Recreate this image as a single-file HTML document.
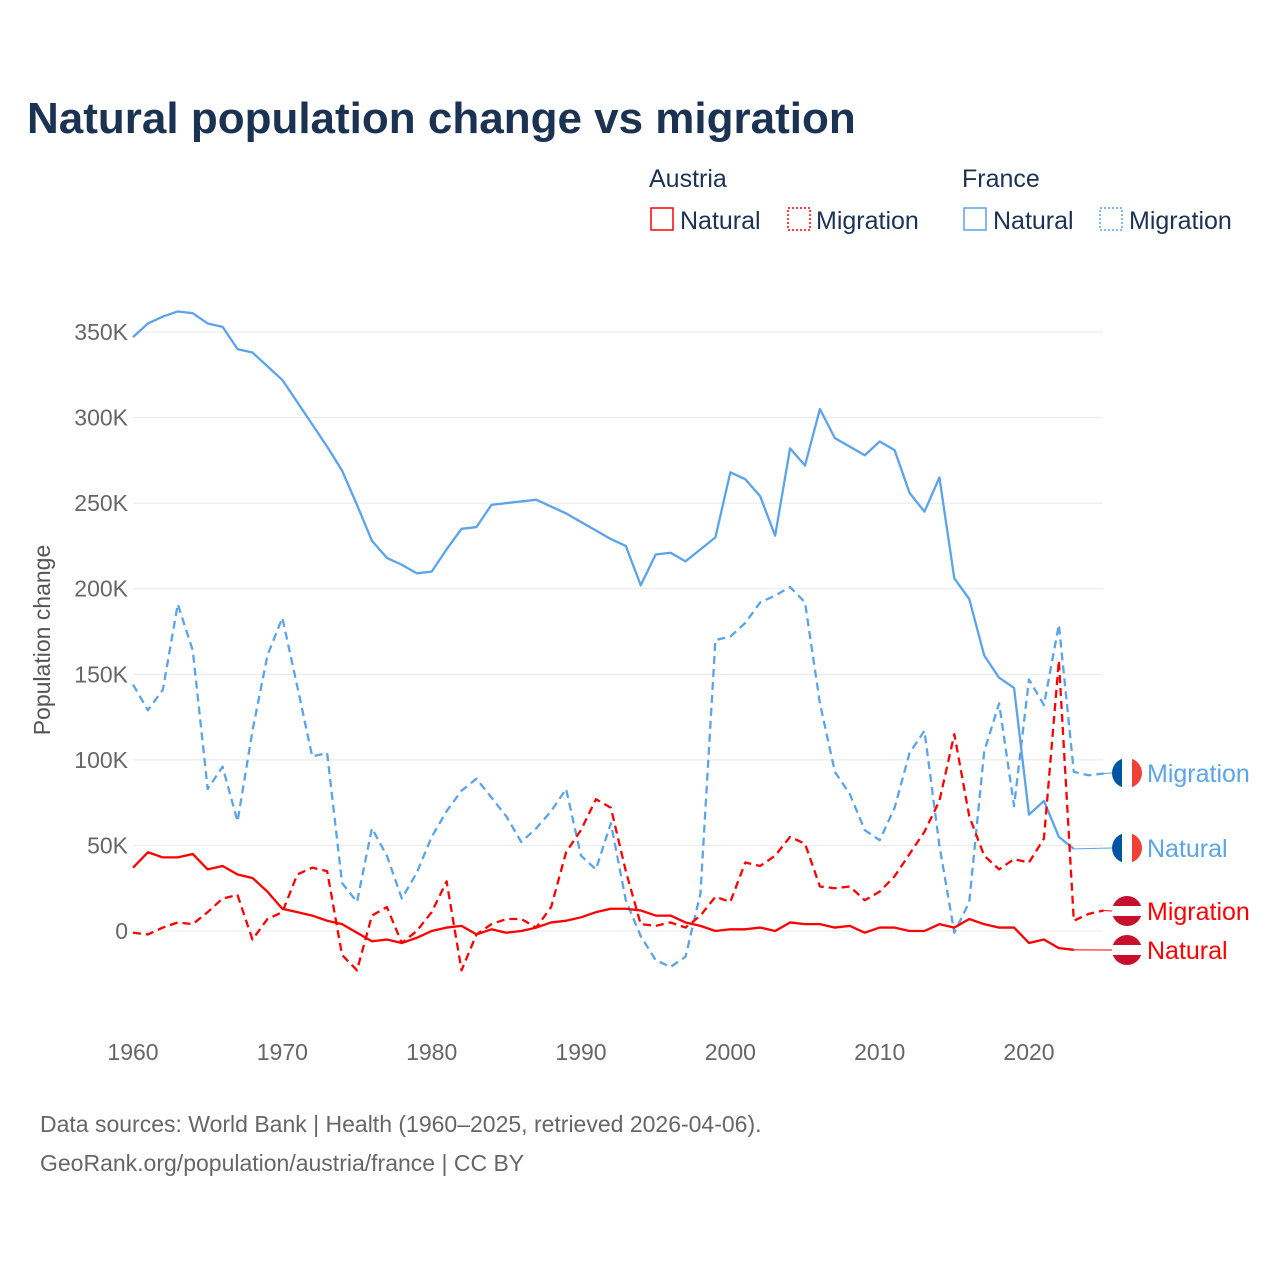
<!DOCTYPE html>
<html><head><meta charset="utf-8">
<style>
body{margin:0;background:#fff;font-family:"Liberation Sans",sans-serif;}
svg text{font-family:"Liberation Sans",sans-serif;}
</style></head>
<body>
<svg id="chart" width="1280" height="1280" xmlns="http://www.w3.org/2000/svg">
<text x="27" y="133" font-size="44" font-weight="bold" fill="#1b3252">Natural population change vs migration</text>
<g font-size="25" fill="#1b3252">
<text x="649" y="187">Austria</text>
<text x="962" y="187">France</text>
<g><rect x="651" y="208" width="22" height="22" fill="none" stroke="#f00" stroke-width="1.5"/><text x="680" y="229">Natural</text></g>
<g><rect x="788" y="208" width="22" height="22" fill="none" stroke="#f00" stroke-width="1.5" stroke-dasharray="2,2"/><text x="816" y="229">Migration</text></g>
<g><rect x="964" y="208" width="22" height="22" fill="none" stroke="#5ba3ea" stroke-width="1.5"/><text x="993" y="229">Natural</text></g>
<g><rect x="1100" y="208" width="22" height="22" fill="none" stroke="#5ba3ea" stroke-width="1.5" stroke-dasharray="2,2"/><text x="1129" y="229">Migration</text></g>
</g>
<text transform="translate(50,640) rotate(-90)" text-anchor="middle" font-size="23" fill="#555">Population change</text>
<g id="grid"></g><g id="yt"></g><g id="xt"></g><g id="series"></g><g id="labels"></g>
<text x="40" y="1132" font-size="23" fill="#666">Data sources: World Bank | Health (1960–2025, retrieved 2026-04-06).</text>
<text x="40" y="1171" font-size="23" fill="#666">GeoRank.org/population/austria/france | CC BY</text>
</svg>
<script>
const years=[];for(let y=1960;y<=2025;y++)years.push(y);
const yTicks=[0,50,100,150,200,250,300,350];
const yTickLabels=["0","50K","100K","150K","200K","250K","300K","350K"];
const xTicks=[1960,1970,1980,1990,2000,2010,2020];
const franceNatural=[347,355,359,362,361,355,353,340,338,330,322,309,296,283,269,249,228,218,214,209,210,223,235,236,249,250,251,252,248,244,239,234,229,225,202,220,221,216,223,230,268,264,254,231,282,272,305,288,283,278,286,281,256,245,265,206,194,161,148,142,68,76,55,48];
const franceMigration=[144,129,141,191,164,83,96,64,117,161,183,143,102,104,28,17,60,44,19,34,55,70,82,89,78,67,52,60,70,83,44,36,63,18,-3,-17,-21,-15,22,170,172,180,192,196,201,192,133,93,80,59,53,72,104,117,50,-1,17,105,133,73,147,132,179,93,91,92];
const austriaNatural=[37,46,43,43,45,36,38,33,31,23,13,11,9,6,4,-1,-6,-5,-7,-4,0,2,3,-2,1,-1,0,2,5,6,8,11,13,13,12,9,9,5,3,0,1,1,2,0,5,4,4,2,3,-1,2,2,0,0,4,2,7,4,2,2,-7,-5,-10,-11];
const austriaMigration=[-1,-2,2,5,4,11,19,21,-5,7,11,33,37,35,-14,-23,9,14,-7,0,11,29,-23,-2,4,7,7,2,14,46,59,77,72,35,4,3,5,2,9,20,17,40,38,44,55,51,26,25,26,18,23,32,45,58,76,115,67,44,36,42,40,54,158,6,10,12];
const NS="http://www.w3.org/2000/svg";
const X=yr=>133+(yr-1960)*896/60;
const Y=v=>931-v*599/350;
function mk(tag,attrs,parent){const e=document.createElementNS(NS,tag);for(const k in attrs)e.setAttribute(k,attrs[k]);document.getElementById(parent).appendChild(e);return e;}
yTicks.forEach((t,i)=>{
 const l=mk('line',{x1:133,x2:1103,y1:Y(t),y2:Y(t),stroke:'#e8e8e8','stroke-width':1},'grid');
 
 
 const tx=mk('text',{x:128,y:Y(t)+8,'text-anchor':'end','font-size':23,fill:'#666'},'yt');
 tx.textContent=yTickLabels[i];
 
 
});
xTicks.forEach(t=>{
 const tx=mk('text',{x:X(t),y:1060,'text-anchor':'middle','font-size':23,fill:'#666'},'xt');
 tx.textContent=t;
 
 
});
function series(data,color,dash,name,label,labelY,flag){
 const pts=data.map((v,i)=>X(years[i])+','+Y(v)).join(' ');
 const p=mk('polyline',{points:pts,fill:'none',stroke:color,'stroke-width':2.3,'stroke-linejoin':'round'},'series');
 if(dash)p.setAttribute('stroke-dasharray','8,5');
 
 
 const last=data[data.length-1],lx=X(years[data.length-1]);
 const c=mk('line',{x1:lx,x2:1112,y1:Y(last),y2:labelY,stroke:color,'stroke-width':1},'labels');
 
 
 const g=mk('g',{},'labels');
 
 
 const cx=1127,r=15;
 if(flag==='fr'){
  g.innerHTML=`<clipPath id="c${name}"><circle cx="${cx}" cy="${labelY}" r="${r}"/></clipPath><g clip-path="url(#c${name})"><rect x="${cx-r}" y="${labelY-r}" width="10" height="30" fill="#0055a4"/><rect x="${cx-5}" y="${labelY-r}" width="10" height="30" fill="#fff"/><rect x="${cx+5}" y="${labelY-r}" width="10" height="30" fill="#ef4135"/></g>`;
 }else{
  g.innerHTML=`<clipPath id="c${name}"><circle cx="${cx}" cy="${labelY}" r="${r}"/></clipPath><g clip-path="url(#c${name})"><rect x="${cx-r}" y="${labelY-r}" width="30" height="10" fill="#c8102e"/><rect x="${cx-r}" y="${labelY-5}" width="30" height="10" fill="#fff"/><rect x="${cx-r}" y="${labelY+5}" width="30" height="10" fill="#c8102e"/></g>`;
 }
 const t=mk('text',{x:1147,y:labelY+9,'font-size':25,fill:color},'labels');
 t.textContent=label;
 
 
}
series(franceNatural,'#5ba3ea',false,'france-natural-line','Natural',848,'fr');
series(franceMigration,'#5ba3ea',true,'france-migration-line','Migration',773,'fr');
series(austriaNatural,'#f00',false,'austria-natural-line','Natural',950,'at');
series(austriaMigration,'#f00',true,'austria-migration-line','Migration',911,'at');
</script>
</body></html>
